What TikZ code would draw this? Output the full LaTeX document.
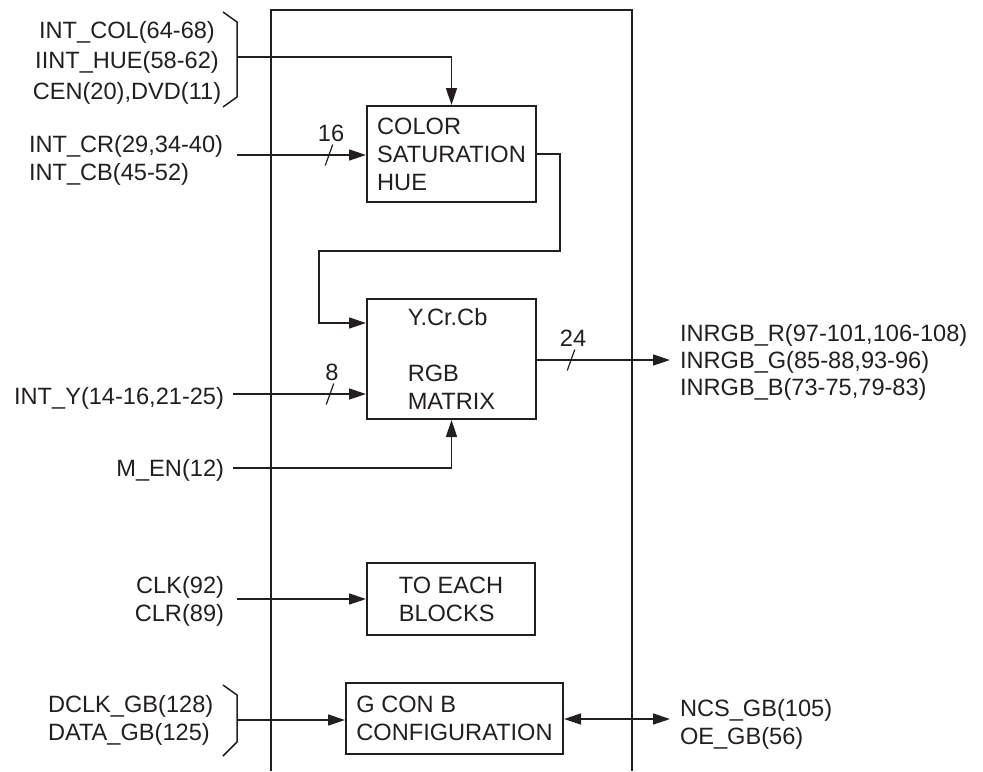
\documentclass[tikz,border=0pt]{standalone}
\usepackage{fontspec}
\setmainfont{Liberation Sans}
\usepackage{tikz}
\usetikzlibrary{arrows.meta,calc}
\definecolor{ink}{RGB}{35,31,32}
\tikzset{
  blk/.style   ={draw=ink,line width=1pt,align=left,inner xsep=2pt,inner ysep=4pt,text=ink},
  lbl/.style   ={inner sep=0pt,outer sep=4.5pt,text=ink},
  num/.style   ={inner sep=0pt,text=ink},
  wire/.style  ={draw=ink,line width=0.75pt},
  sig/.style   ={wire,-{Triangle[length=8.5pt,width=5.5pt]}},
  bisig/.style ={wire,{Triangle[length=8.5pt,width=5.5pt]}-{Triangle[length=8.5pt,width=5.5pt]}},
  frame/.style ={draw=ink,line width=1.3pt},
}

\begin{document}
\begin{tikzpicture}[x=0.5pt,y=-0.5pt,font=\fontsize{11.8}{14}\selectfont]
  \useasboundingbox (0,0) rectangle (983,771);
  \draw[frame] (271,771) -- (271,10) -- (632,10) -- (632,771);
  \node[blk,minimum width=84.5pt,minimum height=48pt](sat) at (451.5,154){COLOR\\SATURATION\\HUE};
  \node[blk,minimum width=84.5pt,minimum height=60pt](mtx) at (451.5,359){Y.Cr.Cb\\[14pt]RGB\\MATRIX};
  \node[blk,minimum width=84pt,minimum height=36pt](clk) at (451,599){TO EACH\\BLOCKS};
  \node[blk,minimum width=108.5pt,minimum height=35.5pt](gcb) at (454.5,718.5){G CON B\\CONFIGURATION};

  \node[lbl,align=center,font=\fontsize{11.8}{15.25}\selectfont](ctl) at (127,62.4){INT\_COL(64-68)\\IINT\_HUE(58-62)\\CEN(20),DVD(11)};
  \node[lbl,align=left,anchor=west](crb) at (20,160){INT\_CR(29,34-40)\\INT\_CB(45-52)};
  \node[lbl,anchor=east](yin) at (233,398){INT\_Y(14-16,21-25)};
  \node[lbl,anchor=east](men) at (233,470){M\_EN(12)};
  \node[lbl,align=right,anchor=east](clr) at (233,601.5){CLK(92)\\CLR(89)};
  \node[lbl,align=left,anchor=west](dgb) at (39,720){DCLK\_GB(128)\\DATA\_GB(125)};
  \node[lbl,align=left,anchor=west,font=\fontsize{11.8}{13.5}\selectfont](rgb) at (671,362){INRGB\_R(97-101,106-108)\\INRGB\_G(85-88,93-96)\\INRGB\_B(73-75,79-83)};
  \node[lbl,align=left,anchor=west](ncs) at (671,724){NCS\_GB(105)\\OE\_GB(56)};

  \draw[wire] (223,12) -- (237,22) -- (237,97) -- (223,107);
  \draw[wire] (223,685) -- (237,695) -- (237,742) -- (223,756);
  \coordinate (ctip) at (237,57);  \coordinate (dtip) at (237,720);
  \coordinate (crin) at (237,155); \coordinate (yin0) at (233,394);
  \coordinate (men0) at (233,468); \coordinate (clk0) at (237,599);
  \coordinate (rgb0) at (670,360); \coordinate (ncs0) at (670,719);
  \coordinate (fb1) at (560,251);  \coordinate (fb2) at (319,323);

  \draw[sig] (ctip) -| (sat.north);
  \draw[sig] (crin) -- (crin -| sat.west);
  \draw[sig] (sat.east) -| (fb1) -| (fb2) -- (fb2 -| mtx.west);
  \draw[sig] (yin0) -- (yin0 -| mtx.west);
  \draw[sig] (men0) -| (mtx.south);
  \draw[sig] (rgb0 -| mtx.east) -- (rgb0);
  \draw[sig] (clk0) -- (clk0 -| clk.west);
  \draw[sig] (dtip) -- (dtip -| gcb.west);
  \draw[bisig] (ncs0 -| gcb.east) -- (ncs0);

  \foreach \x/\y/\n in {329/155/16,330/394/8,571/360/24}{
    \draw[wire,line width=0.6pt] (\x-3.75,\y+10.5) -- (\x+3.75,\y-10.5);
    \node[num](w\n) at (\x+2,\y-22){\n};
  }
\end{tikzpicture}
\end{document}
